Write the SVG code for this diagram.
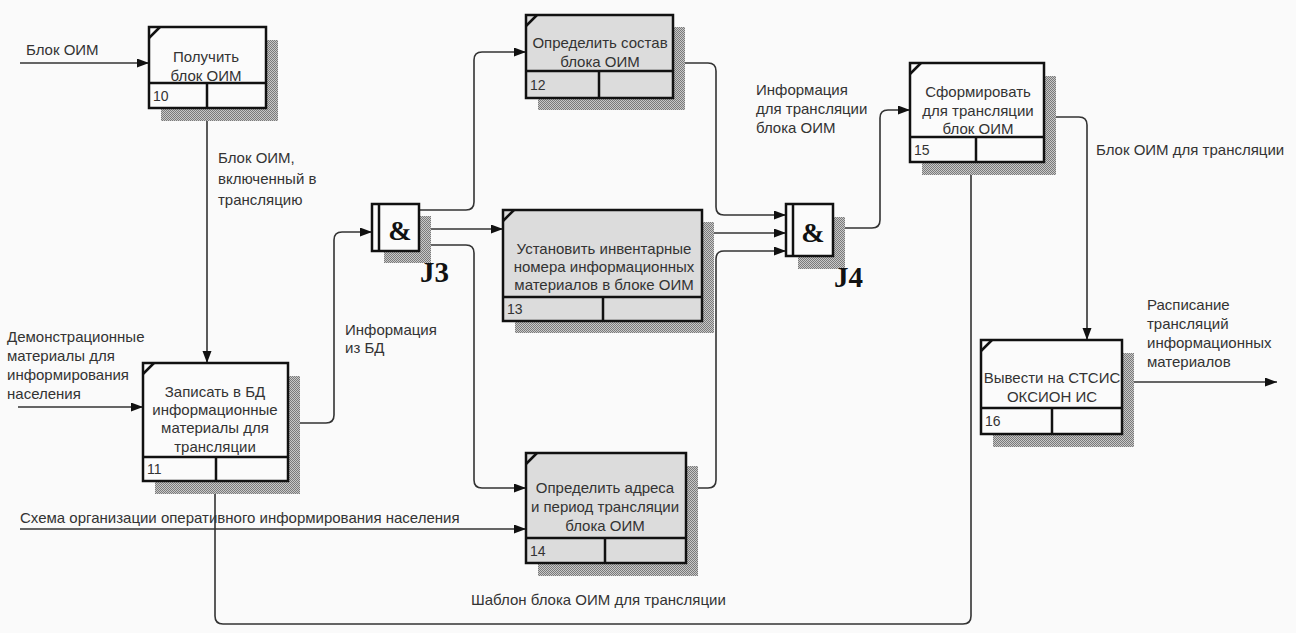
<svg xmlns="http://www.w3.org/2000/svg" width="1296" height="633" viewBox="0 0 1296 633">
<defs>
<pattern id="hatch" width="2" height="2" patternUnits="userSpaceOnUse">
<rect width="2" height="2" fill="#c8c8c8"/>
<rect width="1" height="1" fill="#7a7a7a"/>
<rect x="1" y="1" width="1" height="1" fill="#7a7a7a"/>
</pattern>
<marker id="arr" markerUnits="userSpaceOnUse" markerWidth="13" markerHeight="10" refX="12" refY="4.5" orient="auto">
<path d="M0,0 L12,4.5 L0,9 z" fill="#111"/>
</marker>
<style>
.bg{fill:#fafafa}
.sh{fill:url(#hatch)}
.bw{fill:#fbfbfb;stroke:#111;stroke-width:2.5}
.bg2{fill:#dcdcdc;stroke:#111;stroke-width:2.5}
.dv{stroke:#111;stroke-width:2.5;fill:none}
.cn{fill:none;stroke:#333;stroke-width:1.6}
.ca{fill:none;stroke:#333;stroke-width:1.6;marker-end:url(#arr)}
.t{font-family:"Liberation Sans",Arial,sans-serif;font-size:15px;fill:#333}
.tc{font-family:"Liberation Sans",Arial,sans-serif;font-size:15px;fill:#333;text-anchor:middle}
.n{font-family:"Liberation Sans",Arial,sans-serif;font-size:14px;fill:#333}
.amp{font-family:"Liberation Serif","Times New Roman",serif;font-size:28px;font-weight:bold;fill:#111;text-anchor:middle}
.jl{font-family:"Liberation Serif","Times New Roman",serif;font-size:29px;font-weight:bold;fill:#111}
</style>
</defs>
<rect class="bg" x="0" y="0" width="1296" height="633"/>

<g id="connectors">
<path class="ca" d="M20,63 H149"/>
<path class="ca" d="M207,108 V363"/>
<path class="ca" d="M18,407 H143"/>
<path class="ca" d="M288,423 H326 Q334,423 334,415 V240 Q334,232 342,232 H372"/>
<path class="ca" d="M419,210 H466 Q474,210 474,202 V60 Q474,52 482,52 H526"/>
<path class="ca" d="M419,229 H503"/>
<path class="ca" d="M419,245 H466 Q474,245 474,253 V480 Q474,488 482,488 H526"/>
<path class="ca" d="M673,63 H708 Q716,63 716,71 V207 Q716,215 724,215 H786"/>
<path class="ca" d="M702,233 H786"/>
<path class="ca" d="M686,488 H708 Q716,488 716,480 V259 Q716,251 724,251 H786"/>
<path class="ca" d="M833,228 H872 Q880,228 880,220 V118 Q880,110 888,110 H910"/>
<path class="ca" d="M1044,117 H1079 Q1087,117 1087,125 V340"/>
<path class="ca" d="M1122,382 H1277"/>
<path class="ca" d="M20,529 H526"/>
<path class="ca" d="M971,162 V616 Q971,624 963,624 H223 Q215,624 215,616 V481"/>
<text class="t" x="26" y="55">Блок ОИМ</text>
<text class="t" x="218" y="163">Блок ОИМ,</text>
<text class="t" x="218" y="184">включенный в</text>
<text class="t" x="218" y="205">трансляцию</text>
<text class="t" x="7" y="342">Демонстрационные</text>
<text class="t" x="7" y="361">материалы для</text>
<text class="t" x="7" y="380">информирования</text>
<text class="t" x="7" y="399">населения</text>
<text class="t" x="345" y="335">Информация</text>
<text class="t" x="345" y="353">из БД</text>
<text class="t" x="756" y="95">Информация</text>
<text class="t" x="756" y="114">для трансляции</text>
<text class="t" x="756" y="133">блока ОИМ</text>
<text class="t" x="1096" y="155">Блок ОИМ для трансляции</text>
<text class="t" x="1147" y="310">Расписание</text>
<text class="t" x="1147" y="329">трансляций</text>
<text class="t" x="1147" y="348">информационных</text>
<text class="t" x="1147" y="367">материалов</text>
<text class="t" x="20" y="523">Схема организации оперативного информирования населения</text>
<text class="t" x="471" y="605">Шаблон блока ОИМ для трансляции</text>
</g>

<g id="box10">
<rect class="sh" x="161" y="40" width="117" height="81"/>
<rect class="bw" x="149" y="27" width="117" height="81"/>
<path class="dv" d="M149,83 H266 M207,83 V108 M149,38 L160,27"/>
<text class="tc" x="206" y="62">Получить</text>
<text class="tc" x="206" y="81">блок ОИМ</text>
<text class="n" x="153" y="101">10</text>
</g>

<g id="box11">
<rect class="sh" x="155" y="376" width="145" height="118"/>
<rect class="bw" x="143" y="363" width="145" height="118"/>
<path class="dv" d="M143,457 H288 M216,457 V481 M143,374 L154,363"/>
<text class="tc" x="215" y="397">Записать в БД</text>
<text class="tc" x="215" y="415">информационные</text>
<text class="tc" x="215" y="433">материалы для</text>
<text class="tc" x="215" y="452">трансляции</text>
<text class="n" x="147" y="474">11</text>
</g>

<g id="J3">
<rect class="sh" x="384" y="216" width="47" height="47"/>
<rect class="bw" x="372" y="204" width="47" height="47"/>
<path class="dv" d="M379,204 V251"/>
<text class="amp" x="400" y="240">&amp;</text>
<text class="jl" x="420" y="282">J3</text>
</g>

<g id="box12">
<rect class="sh" x="538" y="27" width="147" height="83"/>
<rect class="bg2" x="526" y="15" width="147" height="83"/>
<path class="dv" d="M526,71 H673 M599,71 V98 M526,26 L537,15"/>
<text class="tc" x="600" y="48">Определить состав</text>
<text class="tc" x="600" y="67">блока ОИМ</text>
<text class="n" x="530" y="90">12</text>
</g>

<g id="box13">
<rect class="sh" x="515" y="222" width="199" height="111"/>
<rect class="bg2" x="503" y="210" width="199" height="111"/>
<path class="dv" d="M503,297 H702 M603,297 V321 M503,221 L514,210"/>
<text class="tc" x="604" y="254">Установить инвентарные</text>
<text class="tc" x="604" y="272">номера информационных</text>
<text class="tc" x="604" y="290">материалов в блоке ОИМ</text>
<text class="n" x="507" y="314">13</text>
</g>

<g id="box14">
<rect class="sh" x="538" y="466" width="160" height="110"/>
<rect class="bg2" x="526" y="453" width="160" height="110"/>
<path class="dv" d="M526,538 H686 M605,538 V563 M526,464 L537,453"/>
<text class="tc" x="605" y="493">Определить адреса</text>
<text class="tc" x="605" y="512">и период трансляции</text>
<text class="tc" x="605" y="531">блока ОИМ</text>
<text class="n" x="530" y="556">14</text>
</g>

<g id="J4">
<rect class="sh" x="798" y="217" width="47" height="52"/>
<rect class="bw" x="786" y="204" width="47" height="52"/>
<path class="dv" d="M793,204 V256"/>
<text class="amp" x="813" y="242">&amp;</text>
<text class="jl" x="834" y="287">J4</text>
</g>

<g id="box15">
<rect class="sh" x="922" y="76" width="134" height="99"/>
<rect class="bw" x="910" y="63" width="134" height="99"/>
<path class="dv" d="M910,137 H1044 M976,137 V162 M910,74 L921,63"/>
<text class="tc" x="978" y="97">Сформировать</text>
<text class="tc" x="978" y="116">для трансляции</text>
<text class="tc" x="978" y="134">блок ОИМ</text>
<text class="n" x="914" y="155">15</text>
</g>

<g id="box16">
<rect class="sh" x="993" y="353" width="141" height="94"/>
<rect class="bw" x="981" y="340" width="141" height="94"/>
<path class="dv" d="M981,408 H1122 M1052,408 V434 M981,351 L992,340"/>
<text class="tc" x="1052" y="383">Вывести на СТСИС</text>
<text class="tc" x="1052" y="402">ОКСИОН ИС</text>
<text class="n" x="985" y="426">16</text>
</g>
</svg>
